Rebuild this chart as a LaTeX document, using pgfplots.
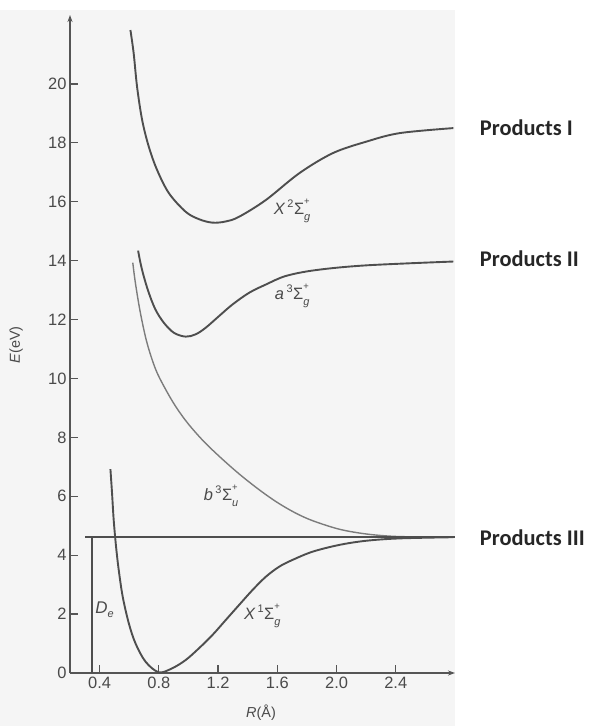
\documentclass[border=0pt]{standalone}
\usepackage{pgfplots}
\pgfplotsset{compat=1.18}
\usepackage{fontspec}
\setmainfont{Liberation Sans}
\newfontfamily\prodfont{Carlito}
\usetikzlibrary{arrows.meta}
\definecolor{bggray}{HTML}{F5F5F5}
\definecolor{curve}{HTML}{4E4E4E}
\definecolor{curvelight}{HTML}{7C7C7C}
\definecolor{axisgray}{HTML}{555555}
\definecolor{labgray}{HTML}{4A4A4A}
\newcommand{\term}[3]{{\itshape #1}\kern2.5pt\raisebox{0.8ex}{\fontsize{11}{11}\selectfont #2}\kern0.5pt Σ\rlap{\raisebox{1.15ex}{\fontsize{9.5}{9.5}\selectfont +}}\raisebox{-0.7ex}{\fontsize{11}{11}\selectfont\itshape #3}}
\begin{document}
\begin{tikzpicture}
\fill[bggray] (0,0) rectangle (455bp,716bp);
\begin{axis}[
  at={(70bp,53bp)}, anchor=south west,
  scale only axis, width=385bp, height=658bp,
  xmin=0.2, xmax=2.8, ymin=0, ymax=22.34,
  axis lines=left,
  axis line style={axisgray, line width=1.6bp, -{Stealth[length=7bp,width=5bp]}},
  tick align=inside, major tick length=7.5bp,
  tick style={axisgray, line width=1.3bp},
  xtick={0.4,0.8,1.2,1.6,2.0,2.4},
  ytick={0,2,4,6,8,10,12,14,16,18,20},
  /pgf/number format/assume math mode=true,
  tick label style={font=\fontsize{16.5}{18}\selectfont, text=labgray},
  xticklabel style={/pgf/number format/fixed, /pgf/number format/precision=1, /pgf/number format/fixed zerofill, yshift=-1bp},
  clip=false,
]
% X 2Sigma_g+
\addplot[curve, line width=1.9bp, smooth, tension=0.55] coordinates {
 (0.608,21.83) (0.630,21.04) (0.653,19.90) (0.687,18.78) (0.732,17.87)
 (0.788,17.08) (0.868,16.29) (0.981,15.66) (1.07,15.41) (1.161,15.29)
 (1.252,15.33) (1.342,15.49) (1.523,16.06) (1.749,16.97) (1.975,17.65)
 (2.201,18.04) (2.427,18.33) (2.789,18.50)};
% a 3Sigma_g+
\addplot[curve, line width=1.9bp, smooth, tension=0.55] coordinates {
 (0.660,14.34) (0.676,13.92) (0.698,13.47) (0.732,12.91) (0.777,12.34)
 (0.834,11.89) (0.902,11.55) (0.981,11.42) (1.049,11.50) (1.116,11.72)
 (1.207,12.12) (1.297,12.51) (1.410,12.91) (1.523,13.19) (1.658,13.48)
 (1.862,13.68) (2.201,13.84) (2.789,13.97)};
% b 3Sigma_u+
\addplot[curvelight, line width=1.4bp, smooth, tension=0.55] coordinates {
 (0.624,13.93) (0.642,13.23) (0.676,12.21) (0.721,11.19) (0.78,10.29)
 (0.85,9.59) (0.92,9.00) (1.00,8.45) (1.10,7.88) (1.207,7.36)
 (1.342,6.76) (1.478,6.22) (1.60,5.79) (1.72,5.44) (1.839,5.17)
 (2.02,4.88) (2.2,4.72) (2.382,4.64) (2.563,4.62)};
% X 1Sigma_g+
\addplot[curve, line width=1.9bp, smooth, tension=0.55] coordinates {
 (0.473,6.92) (0.484,6.10) (0.495,5.20) (0.511,4.29) (0.529,3.50)
 (0.556,2.59) (0.597,1.69) (0.642,1.01) (0.710,0.385) (0.800,0.024)
 (0.890,0.16) (0.981,0.44) (1.071,0.84) (1.162,1.29) (1.252,1.80)
 (1.342,2.31) (1.433,2.82) (1.523,3.27) (1.613,3.61) (1.703,3.84)
 (1.839,4.12) (2.020,4.35) (2.201,4.49) (2.427,4.57) (2.789,4.61)};
% dissociation level and D_e
\addplot[curve, line width=1.5bp] coordinates {(0.303,4.62) (2.8,4.62)};
\addplot[curve, line width=1.5bp] coordinates {(0.348,0) (0.348,4.62)};

\node[text=labgray, font=\fontsize{16.5}{18}\selectfont] at (axis cs:1.70,15.69) {\term{X}{2}{g}};
\node[text=labgray, font=\fontsize{16.5}{18}\selectfont] at (axis cs:1.70,12.8) {\term{a}{3}{g}};
\node[text=labgray, font=\fontsize{16.5}{18}\selectfont] at (axis cs:1.22,6.01) {\term{b}{3}{u}};
\node[text=labgray, font=\fontsize{16.5}{18}\selectfont] at (axis cs:1.498,1.94) {\term{X}{1}{g}};
\node[text=labgray, font=\fontsize{17}{19}\selectfont] at (axis cs:0.434,2.14) {\itshape D\raisebox{-0.5ex}{\fontsize{11}{11}\selectfont e}};

\node[text=labgray, font=\fontsize{14.5}{16}\selectfont] at (axis cs:1.49,-1.36) {\textit{R}(Å)};
\node[text=labgray, font=\fontsize{14.5}{16}\selectfont, rotate=90] at (axis cs:-0.163,11.14) {\textit{E}(eV)};

\node[anchor=west, font=\prodfont\bfseries\fontsize{22.5}{24}\selectfont, text=black!85] at (axis cs:2.945,18.5) {Products I};
\node[anchor=west, font=\prodfont\bfseries\fontsize{22.5}{24}\selectfont, text=black!85] at (axis cs:2.945,14.06) {Products II};
\node[anchor=west, font=\prodfont\bfseries\fontsize{22.5}{24}\selectfont, text=black!85] at (axis cs:2.945,4.58) {Products III};
\end{axis}
\pgfresetboundingbox
\useasboundingbox (0,0) rectangle (592bp,726bp);
\end{tikzpicture}
\end{document}
